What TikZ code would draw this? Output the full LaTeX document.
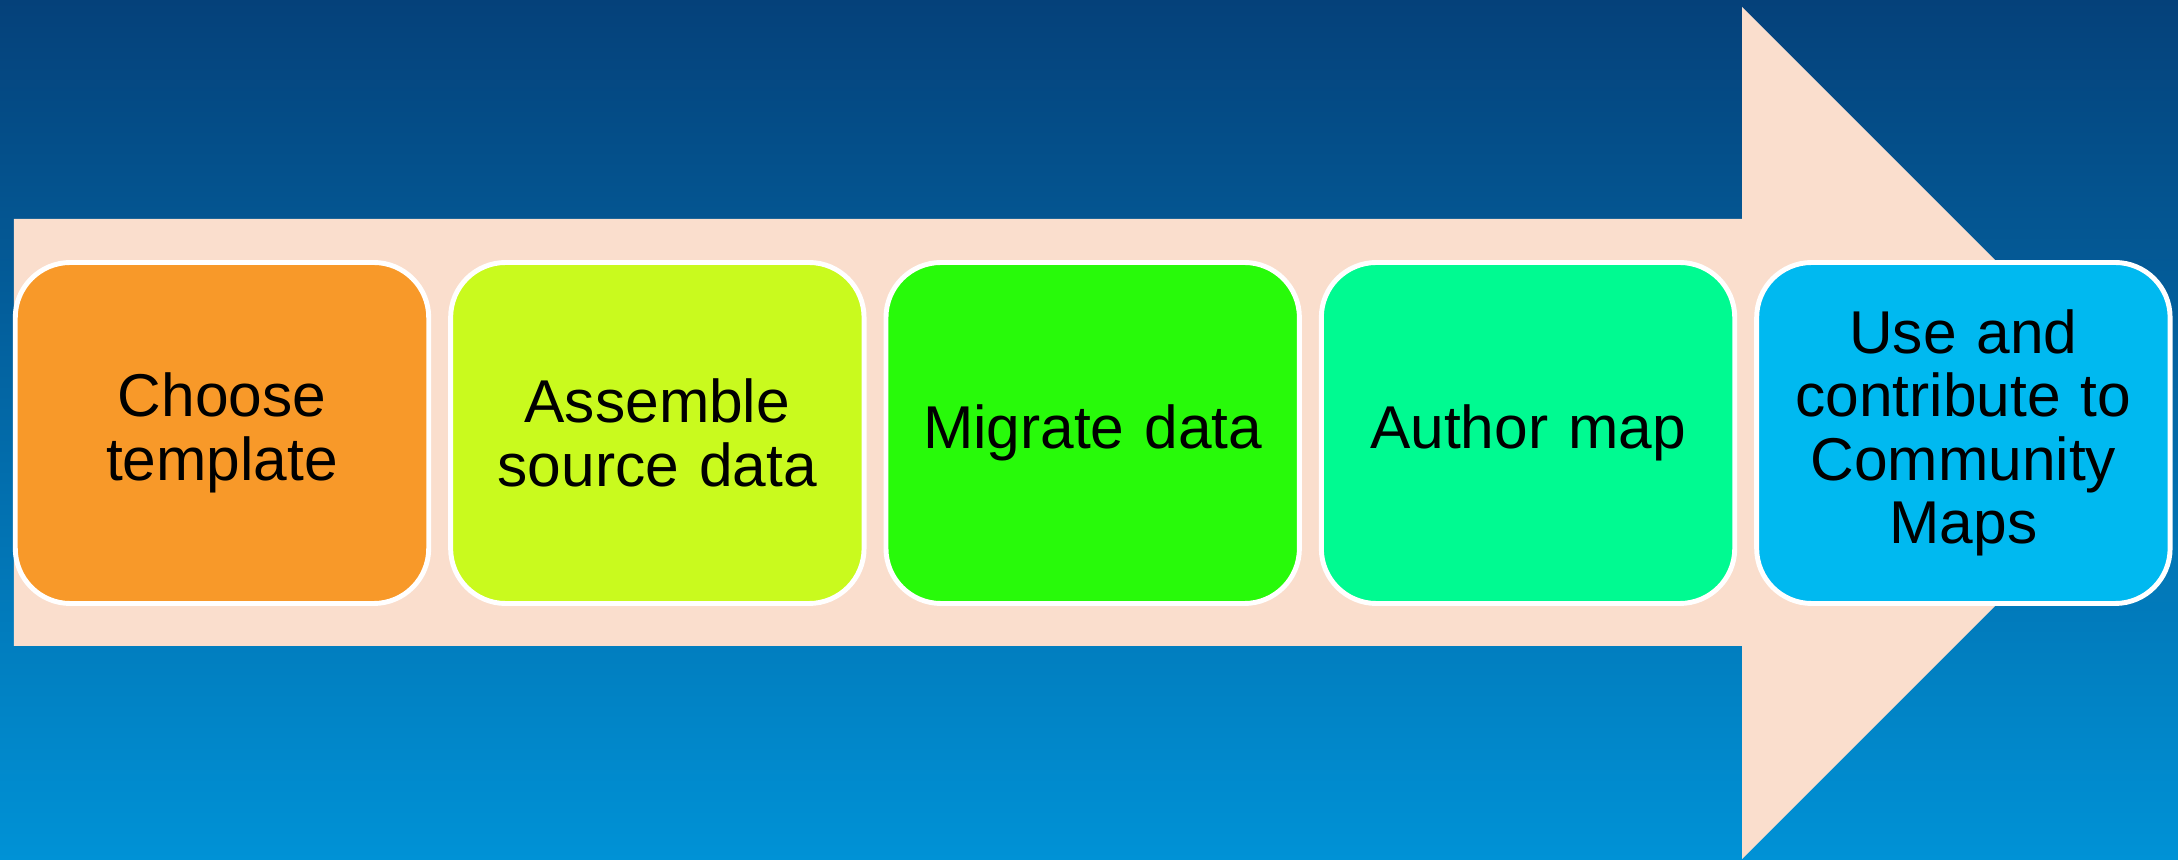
\documentclass[tikz,border=0pt]{standalone}
\usepackage{fontspec}
\setmainfont{Liberation Sans}
\usetikzlibrary{positioning}

\definecolor{skytop}{RGB}{5,65,122}
\definecolor{skybottom}{RGB}{0,146,214}
\definecolor{peach}{RGB}{250,222,205}
\definecolor{stepOrange}{RGB}{248,153,41}
\definecolor{stepLime}{RGB}{201,250,30}
\definecolor{stepGreen}{RGB}{40,250,10}
\definecolor{stepMint}{RGB}{0,250,145}
\definecolor{stepSky}{RGB}{0,185,240}

\begin{document}
\begin{tikzpicture}[
    stage/.style={rectangle, rounded corners=0.55cm, draw=white, line width=1.4pt,
        minimum width=4.13cm, minimum height=3.41cm, text width=3.9cm, align=center,
        font=\fontsize{17.2}{18}\selectfont},
    bigarrow/.style={fill=peach}
]

    % Background
    \shade[top color=skytop, bottom color=skybottom] (0,0) rectangle (21.78,8.60);

    % Big arrow
    \fill[bigarrow] (0.14,6.41) -- (17.42,6.41) -- (17.42,8.53) -- (21.68,4.27)
        -- (17.42,0.01) -- (17.42,2.14) -- (0.14,2.14) -- cycle;

    % --- Steps ---
    \node[stage, fill=stepOrange] (template) at (2.22,4.27) {Choose\\template};
    \node[stage, fill=stepLime, right=0.17cm of template] (source) {Assemble\\source data};
    \node[stage, fill=stepGreen, right=0.17cm of source] (migrate) {Migrate data};
    \node[stage, fill=stepMint, right=0.17cm of migrate] (author) {Author map};
    \node[stage, fill=stepSky, right=0.17cm of author] (share) {Use and\\contribute to\\Community\\Maps};

\end{tikzpicture}
\end{document}
